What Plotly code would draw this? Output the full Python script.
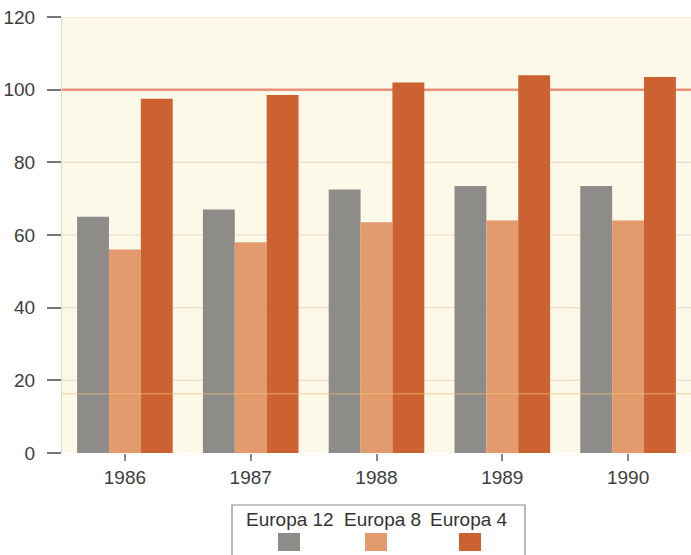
import plotly.graph_objects as go

# Index values per year for the three European groupings
years = ["1986", "1987", "1988", "1989", "1990"]
europa_12 = [65, 67, 72.5, 73.5, 73.5]
europa_8 = [56, 58, 63.5, 64, 64]
europa_4 = [97.5, 98.5, 102, 104, 103.5]
series_names = ["Europa 12", "Europa 8", "Europa 4"]
y_ticks = [0, 20, 40, 60, 80, 100, 120]

colors = ["#8d8c89", "#e39a6d", "#cc6132"]
font_family = "Liberation Sans, Arial, sans-serif"

fig = go.Figure()
for name, vals, col in zip(series_names, [europa_12, europa_8, europa_4], colors):
    fig.add_trace(go.Bar(x=years, y=vals, name=name, marker=dict(color=col, line=dict(width=0)),
                         showlegend=False))

# Plot-area geometry in pixels (used to place the legend box below the axis)
W, H = 691, 555
ml, mr, mt, mb = 62, 0, 17, 102
pw, ph = W - ml - mr, H - mt - mb

def px_x(px):
    return (px - ml) / pw

def px_y(py):
    return (H - mb - py) / ph

shapes = []
# Horizontal grid lines drawn beneath the bars
for v in y_ticks[1:]:
    if v == 100:
        continue
    shapes.append(dict(type="line", xref="paper", yref="y", x0=0, x1=1, y0=v, y1=v,
                       line=dict(color="#eedcc8", width=1.2), layer="below"))
# Reference line at 100
shapes.append(dict(type="line", xref="paper", yref="y", x0=0, x1=1, y0=100, y1=100,
                   line=dict(color="#ea917d", width=2.5), layer="below"))
# Faint band line near the bottom
shapes.append(dict(type="line", xref="paper", yref="y", x0=0, x1=1, y0=16.3, y1=16.3,
                   line=dict(color="rgba(240,190,120,0.5)", width=1.5), layer="above"))

# Legend frame
shapes.append(dict(type="rect", xref="paper", yref="paper",
                   x0=px_x(232), x1=px_x(525), y0=px_y(505), y1=px_y(560),
                   line=dict(color="#8a8a8a", width=1.2), fillcolor="white"))

annotations = []
text_cx = [290, 382, 469]
swatch_cx = [289, 376, 470]
for name, col, tx, sx in zip(series_names, colors, text_cx, swatch_cx):
    annotations.append(dict(text=name, xref="paper", yref="paper", x=px_x(tx), y=px_y(519),
                            xanchor="center", yanchor="middle", showarrow=False,
                            font=dict(family=font_family, size=19, color="#333333")))
    shapes.append(dict(type="rect", xref="paper", yref="paper",
                       x0=px_x(sx - 11), x1=px_x(sx + 11), y0=px_y(533), y1=px_y(551),
                       line=dict(width=0), fillcolor=col))

fig.update_layout(
    width=W, height=H,
    margin=dict(l=ml, r=mr, t=mt, b=mb),
    paper_bgcolor="white",
    plot_bgcolor="#fdf9e9",
    barmode="group",
    bargap=0.24,
    bargroupgap=0,
    font=dict(family=font_family, size=19, color="#3d3d3d"),
    xaxis=dict(showgrid=False, ticks="outside", ticklen=7, tickcolor="#888888",
               tickwidth=1.5, showline=False, zeroline=False),
    yaxis=dict(range=[0, 120], tickvals=y_ticks, showgrid=False, zeroline=False,
               ticks="outside", ticklen=14, tickcolor="#777777", tickwidth=1.5,
               showline=True, linecolor="#dcdcd6", linewidth=1, ticklabelstandoff=8),
    shapes=shapes,
    annotations=annotations,
)

fig.write_html("out.html")
